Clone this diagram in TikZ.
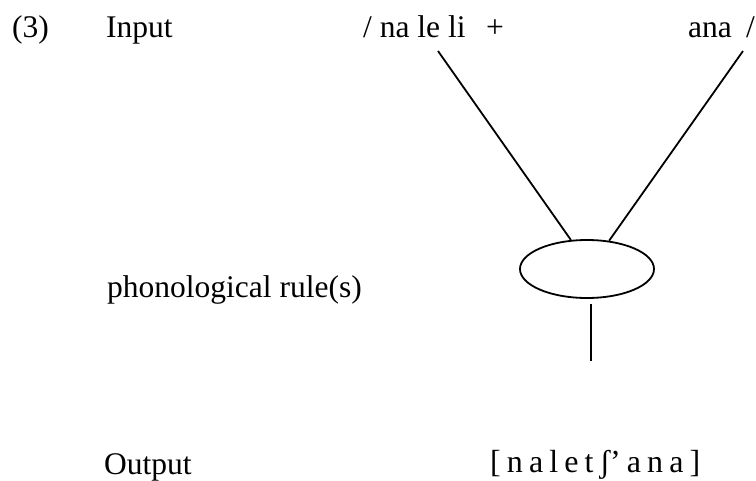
\documentclass[tikz,border=0pt]{standalone}
\usepackage{fontspec}
\setmainfont{Liberation Serif}
\usepackage{tikz}
\usetikzlibrary{shapes.geometric,positioning}

\begin{document}
\begin{tikzpicture}[
  x=1pt, y=-1pt,
  lbl/.style={anchor=base west, inner sep=0pt, font=\fontsize{31.5}{36}\selectfont},
  ipa/.style={anchor=base west, inner sep=0pt, font=\fontsize{32}{36}\selectfont},
  rulebox/.style={draw, ellipse, line width=1.8pt, minimum width=134pt, minimum height=58pt, inner sep=0pt},
  ln/.style={line width=1.8pt}
]
\useasboundingbox (0,0) rectangle (756,480);
\node[lbl] (num) at (12,37) {(3)};
\node[lbl] (input) at (106,37) {Input};
\node[lbl] (stem) at (363,37) {/ na le li\hspace{0.65em}+};
\node[lbl] (suffix) at (688,37) {ana\hspace{0.45em}/};
\node[lbl] (phon) at (107,297) {phonological rule(s)};
\node[lbl] (output) at (104,474) {Output};
\node[ipa] (surface) at (490,472) {\spaceskip=0.19em\relax [ n a l e t ʃ’ a n a ]};
\node[rulebox] (rule) at (587,269) {};
\coordinate (stemfoot) at (438,51);
\coordinate (suffixfoot) at (743,51);
\coordinate (rulefoot) at (591,361);
\draw[ln] (stemfoot) -- (rule.119);
\draw[ln] (suffixfoot) -- (rule.52);
\draw[ln] ([shift={(4,5)}]rule.south) -- (rulefoot);
\end{tikzpicture}
\end{document}
